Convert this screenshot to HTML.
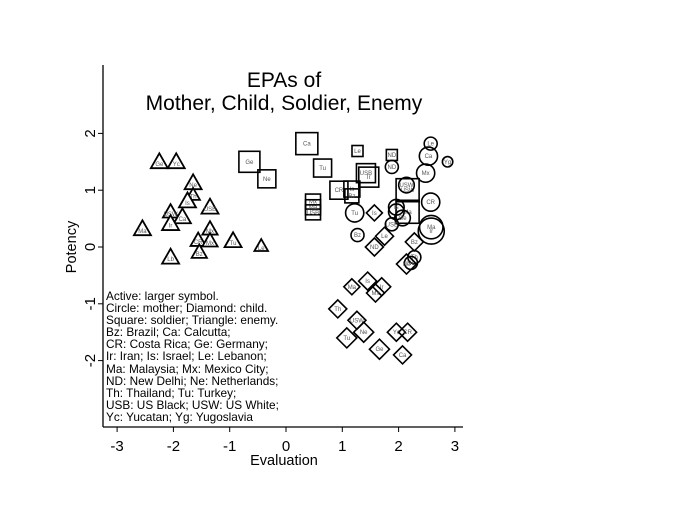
<!DOCTYPE html>
<html><head><meta charset="utf-8"><style>
html,body{margin:0;padding:0;background:#fff;}
svg{display:block;font-family:"Liberation Sans",Arial,sans-serif;}
</style></head><body>
<svg id="chart" width="685" height="529" viewBox="0 0 685 529">
<text x="284" y="87" font-size="21" text-anchor="middle">EPAs of</text>
<text x="284" y="110" font-size="21" text-anchor="middle">Mother, Child, Soldier, Enemy</text>
<g id="axes"></g>
<g id="marks"></g>
<g font-size="11.8">
<text x="106" y="300">Active: larger symbol.</text>
<text x="106" y="312">Circle: mother; Diamond: child.</text>
<text x="106" y="324">Square: soldier; Triangle: enemy.</text>
<text x="106" y="336">Bz: Brazil; Ca: Calcutta;</text>
<text x="106" y="348">CR: Costa Rica; Ge: Germany;</text>
<text x="106" y="360">Ir: Iran; Is: Israel; Le: Lebanon;</text>
<text x="106" y="373">Ma: Malaysia; Mx: Mexico City;</text>
<text x="106" y="385">ND: New Delhi; Ne: Netherlands;</text>
<text x="106" y="397">Th: Thailand; Tu: Turkey;</text>
<text x="106" y="409">USB: US Black; USW: US White;</text>
<text x="106" y="421">Yc: Yucatan; Yg: Yugoslavia</text>
</g>
<text x="284" y="465" font-size="14.5" text-anchor="middle">Evaluation</text>
<text transform="translate(76,247) rotate(-90)" font-size="14.5" text-anchor="middle">Potency</text>
</svg>
<script>
const xTicks=[-3,-2,-1,0,1,2,3];
const yTicks=[-2,-1,0,1,2];
// [label, evaluation, potency, size]
const triangles=[["Ge",-2.25,1.5,1],["Yc",-1.95,1.5,1],["Ne",-1.65,1.13,1],["Th",-1.65,0.92,0.8],["Is",-1.75,0.81,1],["USB",-1.35,0.7,1],["USW",-2.05,0.62,0.9],["Ca",-1.84,0.53,1],["Ir",-2.05,0.41,1],["Ma",-2.55,0.32,1],["Mx",-1.35,0.32,0.9],["CR",-1.56,0.12,0.9],["Mx",-1.35,0.11,0.9],["Tu",-0.94,0.11,1],["Le",-0.44,0.02,0.8],["Bz",-1.54,-0.09,0.9],["Lb",-2.05,-0.18,1]];
const squares=[["Ge",-0.65,1.5,21],["Ne",-0.34,1.2,18],["Ca",0.37,1.82,22],["Tu",0.65,1.39,18],["Le",1.27,1.69,11],["ND",1.88,1.62,11],["USB",1.42,1.3,19],["Ir",1.47,1.23,20],["CR",0.94,1.0,18],["Is",1.17,1.02,16],["Bz",1.17,0.9,14],["Mx",0.48,0.8,15],["Ma",0.48,0.7,15],["USB",0.48,0.61,15],["USW",2.16,1.0,23],["Ma",2.16,0.62,23]];
const circles=[["Le",2.57,1.82,5],["Ca",2.53,1.6,7],["Yg",2.87,1.5,4],["ND",1.88,1.41,5],["Mx",2.48,1.3,7],["USW",2.14,1.09,6],["CR",2.57,0.79,7],["Tu",1.22,0.6,7],["Is",1.96,0.7,6],["Ir",1.96,0.62,6],["Ge",2.07,0.51,6],["USB",1.88,0.4,5],["Ma",2.58,0.35,9],["Ir",2.58,0.28,10],["Bz",1.27,0.21,5],["Th",2.28,-0.18,5],["Ne",2.22,-0.28,5]];
const diamonds=[["Is",1.57,0.6,8],["Le",1.75,0.19,9],["ND",1.57,0.0,9],["Bz",2.28,0.09,9],["Ne",2.14,-0.3,10],["Ma",1.17,-0.7,8],["Is",1.45,-0.6,9],["Ir",1.70,-0.7,9],["Mx",1.59,-0.81,9],["Th",0.92,-1.09,9],["USW",1.26,-1.29,9],["Ne",1.38,-1.5,10],["Tu",1.08,-1.6,10],["Ge",1.66,-1.8,10],["Yc",1.96,-1.5,9],["CR",2.16,-1.5,9],["Ca",2.07,-1.9,9]];

const NS="http://www.w3.org/2000/svg";
function sx(v){return 286+v*56.3;}
function sy(v){return 247-v*56.8;}
function mk(tag,attrs,parent){const e=document.createElementNS(NS,tag);for(const k in attrs)e.setAttribute(k,attrs[k]);parent.appendChild(e);return e;}
const axes=document.getElementById('axes');
const marks=document.getElementById('marks');
const xl=mk('line',{x1:103,y1:427,x2:463,y2:427,stroke:'#000','stroke-width':1.3},axes);


const yl=mk('line',{x1:103,y1:65,x2:103,y2:427,stroke:'#000','stroke-width':1.3},axes);


xTicks.forEach(t=>{
  const x=sx(t);
  mk('line',{x1:x,y1:427,x2:x,y2:432,stroke:'#000'},axes);
  const tx=mk('text',{x:x,y:451,'font-size':15,'text-anchor':'middle'},axes);
  tx.textContent=t;
  
  
});
yTicks.forEach(t=>{
  const y=sy(t);
  mk('line',{x1:98,y1:y,x2:103,y2:y,stroke:'#000'},axes);
  const tx=mk('text',{transform:`translate(95,${y}) rotate(-90)`,'font-size':15,'text-anchor':'middle'},axes);
  tx.textContent=t;
  
  
});
function lab(x,y,s,fs){const t=mk('text',{x:x,y:y+2,'font-size':fs,'text-anchor':'middle',fill:'#555'},marks);t.textContent=s;}
triangles.forEach(d=>{
  const x=sx(d[1]),y=sy(d[2]),s=8.5*d[3];
  const p=mk('polygon',{points:`${x},${y-s} ${x-s},${y+s*0.75} ${x+s},${y+s*0.75}`,fill:'#fff',stroke:'#000','stroke-width':1.8},marks);
  
  
  lab(x,y+2,d[0],6);
});
squares.forEach(d=>{
  const x=sx(d[1]),y=sy(d[2]),s=d[3];
  const p=mk('rect',{x:x-s/2,y:y-s/2,width:s,height:s,fill:'none',stroke:'#000','stroke-width':1.6},marks);
  
  
  lab(x,y,d[0],6);
});
circles.forEach(d=>{
  const x=sx(d[1]),y=sy(d[2]);
  const p=mk('circle',{cx:x,cy:y,r:d[3]*1.3,fill:'none',stroke:'#000','stroke-width':1.6},marks);
  
  
  lab(x,y,d[0],6);
});
diamonds.forEach(d=>{
  const x=sx(d[1]),y=sy(d[2]),s=d[3];
  const p=mk('polygon',{points:`${x},${y-s} ${x+s},${y} ${x},${y+s} ${x-s},${y}`,fill:'none',stroke:'#000','stroke-width':1.6},marks);
  
  
  lab(x,y,d[0],6);
});
</script>
</body></html>
